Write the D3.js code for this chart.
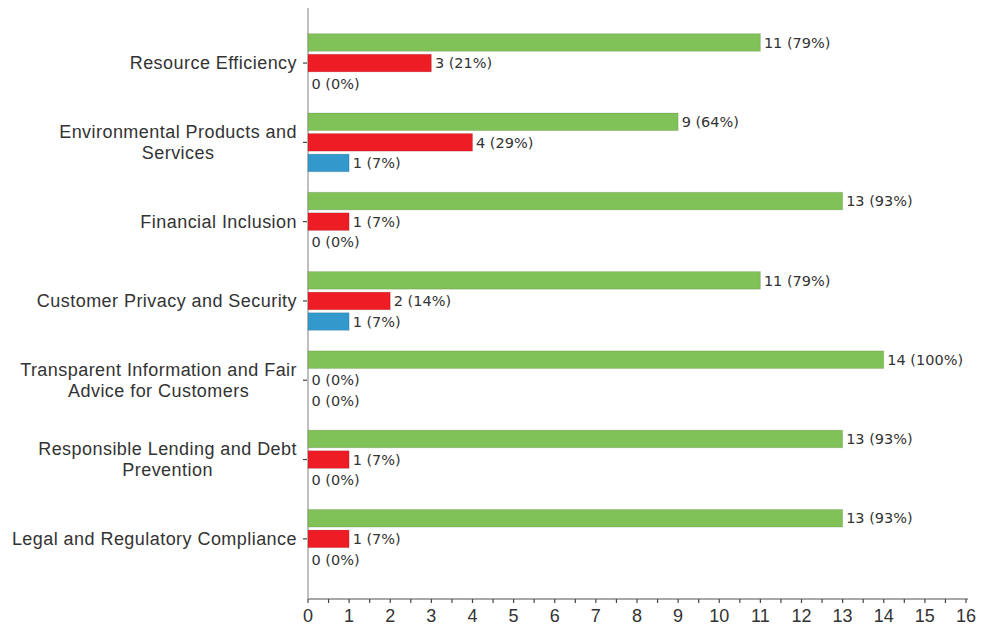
<!DOCTYPE html>
<html>
<head>
<meta charset="utf-8">
<script src="https://cdn.jsdelivr.net/npm/d3@7"></script>
<style>
  html, body { margin: 0; padding: 0; background: #fff; }
  svg { display: block; }
</style>
</head>
<body>
<svg id="chart" width="981" height="629"></svg>
<script>
// Topics and how respondents rated each one
const categories = [
  "Resource Efficiency",
  "Environmental Products and Services",
  "Financial Inclusion",
  "Customer Privacy and Security",
  "Transparent Information and Fair Advice for Customers",
  "Responsible Lending and Debt Prevention",
  "Legal and Regulatory Compliance"
];
const seriesNames = ["green", "red", "blue"];
const greenValues = [11, 9, 13, 11, 14, 13, 13];
const redValues   = [3, 4, 1, 2, 0, 1, 1];
const blueValues  = [0, 1, 0, 1, 0, 0, 0];
const xTicks = [0, 1, 2, 3, 4, 5, 6, 7, 8, 9, 10, 11, 12, 13, 14, 15, 16];

const colors = { green: "#80c257", red: "#ee1d25", blue: "#3399cc" };
const seriesValues = { green: greenValues, red: redValues, blue: blueValues };

const svg = d3.select("#chart");

const x = d3.scaleLinear().domain([0, 16]).range([308, 966]);
const y = d3.scaleBand().domain(categories).range([23.4, 578.5]).padding(0);
const sub = d3.scaleBand().domain(seriesNames)
  .range([0, y.bandwidth()]).paddingInner(0.146).paddingOuter(0.5);

// bottom axis
const axisY = 599;
const xAxis = svg.append("g").attr("transform", `translate(0,${axisY})`);
xAxis.append("line").attr("x1", x(0)).attr("x2", x(16) + 2)
  .attr("stroke", "#8a8a8a").attr("stroke-width", 1.4);
const halfTicks = d3.range(0, 16.01, 0.5);
xAxis.selectAll("line.tick").data(halfTicks).join("line")
  .attr("class", "tick")
  .attr("x1", d => x(d)).attr("x2", d => x(d))
  .attr("y1", 0).attr("y2", 4)
  .attr("stroke", "#444").attr("stroke-width", 1.2);
xAxis.selectAll("text").data(xTicks).join("text")
  .attr("x", d => x(d)).attr("y", 23)
  .attr("text-anchor", "middle")
  .attr("font-family", "'Liberation Sans Narrow', 'Liberation Sans', Arial, sans-serif")
  .attr("font-size", 18)
  .attr("fill", "#333")
  .text(d => d);

// left axis line
svg.append("line").attr("x1", x(0)).attr("x2", x(0))
  .attr("y1", 8).attr("y2", axisY)
  .attr("stroke", "#aaa").attr("stroke-width", 1.5);

// bars
const rows = [];
categories.forEach((c, i) => {
  const total = seriesNames.reduce((s, k) => s + seriesValues[k][i], 0);
  seriesNames.forEach(k => rows.push({ cat: c, key: k, value: seriesValues[k][i], total }));
});

const bars = svg.append("g");
bars.selectAll("rect").data(rows.filter(d => d.value > 0)).join("rect")
  .attr("x", x(0))
  .attr("y", d => y(d.cat) + sub(d.key))
  .attr("width", d => x(d.value) - x(0))
  .attr("height", sub.bandwidth())
  .attr("fill", d => colors[d.key])
  .attr("stroke", "rgba(0,0,0,0.12)")
  .attr("stroke-width", 1);

// value labels
svg.append("g").selectAll("text").data(rows).join("text")
  .attr("x", d => x(d.value) + 3.5)
  .attr("y", d => y(d.cat) + sub(d.key) + sub.bandwidth() / 2)
  .attr("dy", "0.36em")
  .attr("font-family", "'DejaVu Sans', sans-serif")
  .attr("font-size", 14.5)
  .attr("fill", "#333")
  .text(d => `${d.value} (${Math.round(d.value / d.total * 100)}%)`);

// category ticks and labels
const yAxis = svg.append("g");
yAxis.selectAll("line").data(categories).join("line")
  .attr("x1", x(0) - 5).attr("x2", x(0) - 1)
  .attr("y1", d => y(d) + y.bandwidth() / 2)
  .attr("y2", d => y(d) + y.bandwidth() / 2)
  .attr("stroke", "#444").attr("stroke-width", 1.2);

const labelFont = "'Liberation Sans', Arial, sans-serif";
const labelSize = 18;
const labelSpacing = 0.45;
const maxWidth = 292;
const measurer = svg.append("text")
  .attr("font-family", labelFont).attr("font-size", labelSize)
  .attr("letter-spacing", labelSpacing)
  .attr("visibility", "hidden");
function textWidth(s) {
  measurer.text(s);
  return measurer.node().getComputedTextLength();
}
function wrap(str) {
  const words = str.split(" ");
  const lines = [];
  let line = [];
  words.forEach(w => {
    const trial = line.concat(w).join(" ");
    if (textWidth(trial) > maxWidth && line.length) {
      lines.push(line.join(" "));
      line = [w];
    } else {
      line.push(w);
    }
  });
  lines.push(line.join(" "));
  return lines;
}

categories.forEach(c => {
  const lines = wrap(c);
  const blockW = d3.max(lines, textWidth);
  const right = 297;
  const cx = right - blockW / 2;
  const lh = 21;
  const cy = y(c) + y.bandwidth() / 2;
  const t = yAxis.append("text")
    .attr("font-family", labelFont).attr("font-size", labelSize)
    .attr("letter-spacing", labelSpacing)
    .attr("fill", "#333").attr("text-anchor", "middle");
  lines.forEach((l, j) => {
    t.append("tspan").attr("x", cx)
      .attr("y", cy + (j - (lines.length - 1) / 2) * lh)
      .attr("dy", "0.35em")
      .text(l);
  });
});
measurer.remove();
</script>
</body>
</html>
